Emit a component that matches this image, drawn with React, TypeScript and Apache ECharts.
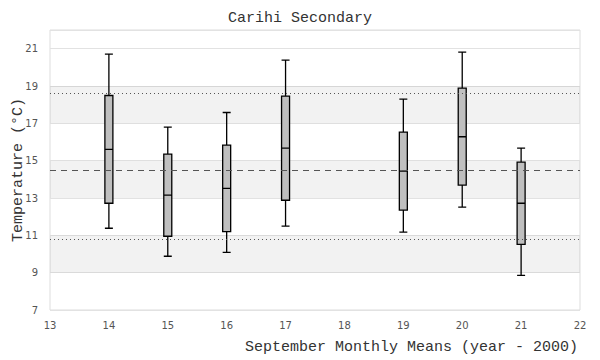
import React, { useEffect, useRef } from "react";
import * as echarts from "echarts";

const years = [14, 15, 16, 17, 19, 20, 21];
const whiskerLow = [11.38, 9.88, 10.09, 11.49, 11.17, 12.51, 8.86];
const q1 = [12.72, 10.95, 11.2, 12.88, 12.35, 13.69, 10.52];
const median = [15.6, 13.15, 13.52, 15.67, 14.44, 16.28, 12.72];
const q3 = [18.49, 15.35, 15.83, 18.46, 16.53, 18.89, 14.92];
const whiskerHigh = [20.71, 16.8, 17.58, 20.39, 18.3, 20.82, 15.67];

const meanLine = 14.49;
const upperLine = 18.62;
const lowerLine = 10.79;

const bands: [number, number][] = [
  [9, 11],
  [13, 15],
  [17, 19],
];

const mono = "'Liberation Mono', 'DejaVu Sans Mono', monospace";

export default function App() {
  const ref = useRef<HTMLDivElement>(null);
  useEffect(() => {
    if (!ref.current) return;
    const chart = echarts.init(ref.current, undefined, { renderer: "svg" });
    const data = years.map((y, i) => [y, whiskerLow[i], q1[i], median[i], q3[i], whiskerHigh[i]]);
    chart.setOption({
      animation: false,
      backgroundColor: "#ffffff",
      title: {
        text: "Carihi Secondary",
        left: "center",
        top: 6,
        textStyle: { fontFamily: mono, fontSize: 15, fontWeight: "normal", color: "#333" },
      },
      grid: {
        left: 50,
        right: 20,
        top: 30,
        bottom: 50,
        containLabel: false,
        outerBoundsMode: "none",
        show: true,
        borderColor: "#dddddd",
        borderWidth: 1,
        backgroundColor: "transparent",
      },
      xAxis: {
        type: "value",
        min: 13,
        max: 22,
        interval: 1,
        axisLine: { show: false },
        axisTick: { show: false },
        splitLine: { show: false },
        axisLabel: { color: "#555", fontSize: 10, fontFamily: "'DejaVu Sans', sans-serif", margin: 10 },
        name: "September Monthly Means (year - 2000)",
        nameLocation: "end",
        nameGap: -2,
        nameMoveOverlap: false,
        nameTextStyle: {
          fontFamily: mono,
          fontSize: 15,
          color: "#333",
          align: "right",
          verticalAlign: "top",
          padding: [30, 0, 0, 0],
        },
      },
      yAxis: {
        type: "value",
        min: 7,
        max: 22,
        interval: 2,
        axisLine: { show: false },
        axisTick: { show: false },
        splitLine: { show: true, lineStyle: { color: "#e2e2e2", width: 1 } },
        axisLabel: {
          color: "#555",
          fontSize: 10,
          fontFamily: "'DejaVu Sans', sans-serif",
          margin: 12,
          showMaxLabel: false,
          formatter: (v: number) => (v === 22 ? "" : String(v)),
        },
        name: "Temperature (°C)",
        nameLocation: "middle",
        nameGap: 24,
        nameMoveOverlap: false,
        nameTextStyle: { fontFamily: mono, fontSize: 15, color: "#333" },
      },
      series: [
        {
          type: "boxplot",
          data,
          encode: { x: 0, y: [1, 2, 3, 4, 5] },
          boxWidth: [8, 8],
          itemStyle: { color: "#bfbfbf", borderColor: "#000", borderWidth: 1.3 },
          markArea: {
            silent: true,
            itemStyle: { color: "rgba(0,0,0,0.05)" },
            data: bands.map((b) => [{ yAxis: b[0] }, { yAxis: b[1] }]),
          },
          markLine: {
            silent: true,
            symbol: "none",
            label: { show: false },
            data: [
              { yAxis: upperLine, lineStyle: { type: [1, 3], color: "#555", width: 1 } },
              { yAxis: meanLine, lineStyle: { type: [6, 5], color: "#555", width: 1 } },
              { yAxis: lowerLine, lineStyle: { type: [1, 3], color: "#555", width: 1 } },
            ],
          },
          z: 3,
        },
      ],
    });
    return () => chart.dispose();
  }, []);
  return (
    <div
      ref={ref}
      style={{ position: "fixed", left: 0, top: 0, width: 600, height: 360 }}
    />
  );
}
